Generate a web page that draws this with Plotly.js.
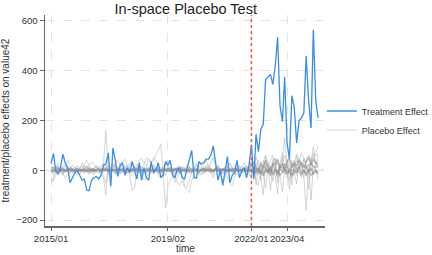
<!DOCTYPE html>
<html><head><meta charset="utf-8">
<script src="https://cdn.plot.ly/plotly-3.0.1.min.js"></script>
<style>html,body{margin:0;padding:0;background:#fff}#c{width:432px;height:255px}</style>
</head><body><div id="c"></div>
<script>
const startMonth = '2015-01';
const treatmentStart = '2022-01-01';
const tickVals = ['2015-01-01','2019-02-01','2022-01-01','2023-04-01'];
const tickText = ['2015/01','2019/02','2022/01','2023/04'];
const yTicks = [-200, 0, 200, 400, 600];

const treatment = [27,68,0,-15,10,65,30,10,-50,-30,
-10,0,-20,-40,-35,-80,-82,-40,-30,-25,
-35,-20,20,25,70,-65,90,40,-25,20,
30,-20,10,-10,35,5,-35,30,-40,10,
-30,-40,35,-10,0,30,-30,-20,35,20,
40,-20,-30,5,10,-30,-35,5,40,80,
-30,-30,35,25,30,45,45,60,98,30,
-40,0,-60,0,55,-50,-20,-10,40,-30,
0,10,-30,20,
102,-35,145,75,165,185,365,375,385,345,
420,535,260,195,375,110,45,300,255,110,
200,210,230,460,280,170,565,280,210];

const placebo1 = [-5,10,20,5,-10,15,30,10,-5,0,
5,-10,0,10,25,40,20,5,-10,0,
10,20,30,160,-20,10,0,-15,5,20,
10,-5,15,30,20,5,-10,0,15,10,
-5,5,20,10,0,-10,5,15,0,-5,
10,5,-15,0,20,10,-10,5,15,0,
-10,5,20,10,0,15,25,10,-5,5,
10,-10,0,15,5,-5,10,20,5,0,
-10,5,15,10,
20,-10,30,10,-20,40,15,30,-10,20,
50,25,10,35,60,20,-10,30,15,40,
20,10,50,30,60,25,40,70,100];

const placebo2 = [-50,-30,10,20,-10,-20,0,15,5,-10,
0,20,10,-5,5,15,0,-10,10,20,
5,-10,-30,-100,20,10,-5,30,40,20,
35,45,20,-20,-80,-75,10,40,50,30,
20,45,30,50,40,20,10,0,-20,10,
5,-10,0,10,-15,5,0,-10,5,10,
0,-5,10,5,-10,0,15,5,-5,10,
0,-15,5,10,-5,0,10,-10,5,0,
10,-5,0,5,
-10,15,-20,10,-30,-100,20,5,-80,10,
-20,-95,15,30,-10,5,-75,10,40,-20,
15,30,-30,-160,10,-120,20,5,-40];

const placebo3 = [10,-20,-10,30,20,-5,10,40,20,0,
-10,-20,5,30,15,10,20,35,25,10,
0,10,30,15,-10,5,20,10,-5,10,
25,10,0,20,35,15,5,20,10,25,
50,45,30,40,60,80,105,0,-150,-60,
-40,-20,-50,-30,10,-20,-60,-70,-40,-10,
10,30,-20,-10,20,40,15,0,-30,10,
20,-10,-60,-20,10,30,5,-15,10,20,
-10,5,20,10,
30,-20,10,40,20,-10,60,30,0,20,
50,-30,10,40,130,20,40,-20,30,10,
50,20,-10,40,60,30,95,20,60];

const placebo4 = [-30,-45,-20,0,15,-10,-30,-20,5,20,
10,0,-15,-5,10,20,5,-10,-20,0,
15,5,-10,0,20,10,30,15,0,-10,
5,20,10,-5,0,15,25,10,-20,-40,
-30,-10,10,20,0,-20,-30,-10,20,40,
30,10,-30,-50,-60,-40,-70,-80,-90,-40,
-20,10,30,20,0,-10,10,30,50,20,
0,-20,-10,10,-30,-50,-60,-20,10,0,
20,30,10,-10,
-20,10,-40,-60,20,0,30,-10,40,60,
10,-20,30,70,0,-30,20,40,-10,60,
30,70,50,20,-10,40,70,60,65];

const placebo5 = [2,-3,4,1,-2,5,0,-4,3,2,
-1,4,-3,2,0,-5,3,1,-2,4,
0,-3,5,2,-4,1,3,-2,0,4,
-3,2,1,-4,3,0,-2,5,1,-3,
2,4,-1,-3,0,3,-2,1,4,-4,
0,2,-3,5,1,-2,3,0,-4,2,
4,-1,0,3,-3,2,5,-2,1,0,
-3,4,2,-1,3,0,-4,2,5,-2,
1,3,-2,0,
5,-8,10,3,-12,15,8,-5,12,20,
5,-10,18,8,25,10,-3,15,22,5,
12,30,18,8,20,28,15,10,22];

const placebo6 = [-4,1,-2,3,5,-1,2,-3,0,4,
3,-2,1,-4,2,0,-3,5,1,-1,
2,4,-2,0,3,-4,1,2,-3,0,
5,-1,3,0,-2,4,1,-3,2,0,
-4,1,3,-2,5,0,2,-3,1,3,
-2,0,4,-1,2,-3,1,5,0,-2,
3,1,-4,2,0,-2,3,1,-3,4,
0,2,-1,3,-4,1,0,4,-2,3,
-1,2,0,-3,
-5,3,-10,8,-3,-15,5,-8,10,-12,
3,-20,8,-5,12,-10,0,-18,5,-8,
15,-12,3,-22,-5,10,-15,0,-10];

const placebo7 = [8,12,-5,-10,3,7,-6,0,10,4,
-8,2,6,-3,-9,5,10,-2,-6,3,
7,-4,0,9,-7,2,5,-10,4,8,
-2,-7,6,3,-5,10,0,-8,5,2,
-6,8,4,-3,7,-9,2,6,-4,0,
9,-5,3,7,-8,1,5,-6,10,2,
-4,6,-9,3,8,-2,0,7,-5,4,
10,-6,2,5,-3,8,-7,1,6,-4,
3,9,-5,2,
20,35,10,-10,25,15,40,5,-20,30,
20,45,10,25,0,35,50,15,30,20,
40,25,10,35,50,20,45,30,25];

const placebo8 = [-8,-5,6,10,2,-7,-3,8,-1,-6,
5,9,-4,0,7,-2,-8,4,6,-5,
-9,3,8,-2,5,-6,-1,7,9,-3,
4,-6,-9,2,8,-4,6,3,-7,-1,
9,-3,-5,6,1,8,-7,-2,5,7,
-4,3,8,-6,0,9,-3,4,-5,-8,
6,2,-7,0,5,9,-4,-6,3,8,
-2,5,7,-8,1,-4,6,9,-3,0,
-6,4,8,-2,
-8,-15,3,-12,-5,-22,-3,-10,5,-18,
-8,0,-20,-10,3,-15,-5,-25,-12,0,
-8,-18,-3,-12,5,-20,-10,-3,-15];

const placebo9 = [15,5,-10,-20,-5,10,20,0,-15,5,
12,-8,-15,3,18,8,-6,-12,5,14,
-3,-14,6,20,-10,0,12,25,8,-5,
-12,10,18,4,-8,2,15,-6,-14,9,
20,6,-9,-15,4,16,8,-10,2,12,
-6,-14,5,15,0,-10,8,18,-4,-12,
10,22,4,-8,-16,6,14,-2,-10,12,
18,0,-12,8,20,5,-9,-15,6,14,
-5,-10,10,16,
40,0,55,20,-40,30,60,10,-25,45,
35,-50,20,50,-15,40,10,-60,30,65,
20,-30,45,15,-75,35,60,25,40];

const placebo10 = [-12,8,16,4,-10,-18,2,12,6,-8,
-14,0,10,18,6,-4,-16,-6,8,14,
4,-8,-18,-50,2,14,20,6,-10,-16,
0,12,4,-12,-20,-4,8,16,10,-6,
-14,2,14,22,8,-6,-18,12,30,18,
4,-10,-20,-8,6,16,10,-4,-14,0,
14,6,-10,-20,2,18,8,-12,-6,10,
20,4,-14,-8,12,24,6,-10,-18,4,
16,8,-6,-14,
-30,20,-60,10,35,-20,-70,25,5,-45,
15,40,-25,-85,10,30,-40,20,-5,-55,
35,10,-30,25,-15,50,-20,30,10];

const placeboWide = [placebo1,placebo2,placebo3,placebo4,placebo9,placebo10];
const placeboNarrow = [placebo5,placebo6,placebo7,placebo8];

function monthList(n){
  const [y0,m0] = startMonth.split('-').map(Number);
  const out=[];
  for(let i=0;i<n;i++){
    const t=(m0-1)+i; const y=y0+Math.floor(t/12); const m=(t%12)+1;
    out.push(y+'-'+String(m).padStart(2,'0')+'-01');
  }
  return out;
}

const traces=[];
placeboWide.forEach((s,i)=>{
  traces.push({x:monthList(s.length), y:s, type:'scatter', mode:'lines',
    name:'Placebo Effect', legendgroup:'p', legendrank:2, showlegend:i===0,
    line:{color:'rgba(185,185,185,0.6)', width:1}, hoverinfo:'skip'});
});
placeboNarrow.forEach((s)=>{
  traces.push({x:monthList(s.length), y:s, type:'scatter', mode:'lines',
    name:'Placebo Effect', legendgroup:'p', legendrank:2, showlegend:false,
    line:{color:'rgba(140,140,140,0.6)', width:1.3}, hoverinfo:'skip'});
});
traces.push({x:monthList(treatment.length), y:treatment, type:'scatter', mode:'lines',
  name:'Treatment Effect', legendrank:1, line:{color:'#3a8ee6', width:1.3}});

const layout={
  width:432, height:255,
  margin:{l:45,r:107,t:15,b:29, autoexpand:false},
  paper_bgcolor:'#fff', plot_bgcolor:'#fff',
  font:{family:'Liberation Sans, Arial, sans-serif', color:'#333', size:9},
  title:{text:'In-space Placebo Test', font:{size:14.5,color:'#222'}, x:0.43, xanchor:'center', y:0.985, yanchor:'top'},
  xaxis:{type:'date', range:['2014-10-16','2024-07-28'], tickvals:tickVals, ticktext:tickText, tickangle:0,
    showgrid:true, gridcolor:'#e3e3e3', griddash:'dash', gridwidth:1,
    showline:true, linecolor:'#666', linewidth:1.5, ticks:'outside', ticklen:3, tickcolor:'#666',
    zeroline:false, tickfont:{size:9.5,color:'#333'}, automargin:false},
  yaxis:{range:[-224,624], tickvals:yTicks, showgrid:true, gridcolor:'#e3e3e3', griddash:'dash', gridwidth:1,
    showline:true, linecolor:'#666', linewidth:1.5, ticks:'outside', ticklen:4, tickcolor:'#666',
    zeroline:false, tickfont:{size:9.5,color:'#333'}, automargin:false,
    title:{text:'treatment/placebo effects on value42', font:{size:10,color:'#333'}, standoff:4}},
  annotations:[
    {text:'time', xref:'paper', x:0.5, yref:'paper', y:-0.105, xanchor:'center', yanchor:'middle', showarrow:false, font:{size:10,color:'#333'}}
  ],
  shapes:[
    {type:'line', xref:'paper', x0:0, x1:1, yref:'y', y0:0, y1:0, line:{color:'#aaa', width:1, dash:'dot'}, layer:'below'},
    {type:'line', xref:'x', x0:treatmentStart, x1:treatmentStart, yref:'paper', y0:0, y1:1, line:{color:'rgb(240,90,90)', width:1.6, dash:'dot'}, layer:'above'}
  ],
  legend:{xref:'container', x:0.745, xanchor:'left', y:0.5, yanchor:'middle', font:{size:9,color:'#333'}, bgcolor:'rgba(0,0,0,0)', tracegroupgap:0},
  showlegend:true
};
Plotly.newPlot('c', traces, layout, {staticPlot:true, displayModeBar:false});
</script></body></html>
